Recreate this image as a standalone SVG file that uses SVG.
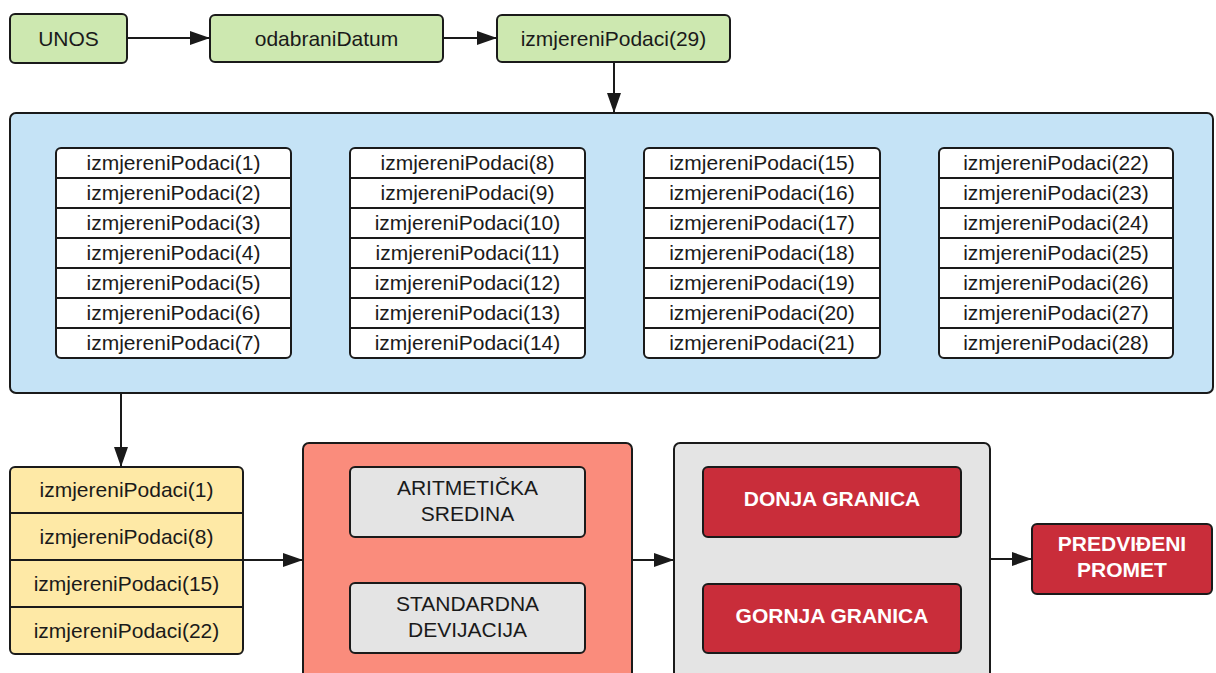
<svg xmlns="http://www.w3.org/2000/svg" width="1216" height="673" viewBox="0 0 1216 673">
<style>
text{font-family:"Liberation Sans",Arial,sans-serif;font-size:21px;fill:#1a1a1a;text-anchor:middle}
.b{stroke:#1a1a1a;stroke-width:2}
.g{fill:#cde8b0}
.bl{fill:#c5e3f6}
.w{fill:#ffffff}
.y{fill:#fee9a6}
.s{fill:#fa8c7c}
.gr{fill:#e4e4e4}
.r{fill:#c92d3a}
.wt{fill:#ffffff;font-weight:bold}
.ln{stroke:#1a1a1a;stroke-width:2;fill:none}
</style>
<defs>
<marker id="ah" viewBox="0 0 20 14" refX="20" refY="7" markerWidth="20" markerHeight="14" markerUnits="userSpaceOnUse" orient="auto"><path d="M0,0 L20,7 L0,14 z" fill="#1a1a1a"/></marker>
</defs>
<g id="unos"><rect class="b g" x="10" y="14" width="117" height="49" rx="5"/><text x="68.5" y="46">UNOS</text></g>
<g id="odabraniDatum"><rect class="b g" x="210" y="15" width="233" height="47" rx="5"/><text x="326.5" y="46">odabraniDatum</text></g>
<g id="izmjereni29"><rect class="b g" x="497" y="15" width="233" height="47" rx="5"/><text x="613.5" y="46">izmjereniPodaci(29)</text></g>
<g id="container"><rect class="b bl" x="10" y="113" width="1203" height="280" rx="6"/>
<g id="col1"><rect class="b w" x="56" y="148" width="235" height="210" rx="5"/>
<path class="ln" d="M56,178H291M56,208H291M56,238H291M56,268H291M56,298H291M56,328H291"/>
<text x="173.5" y="170">izmjereniPodaci(1)</text><text x="173.5" y="200">izmjereniPodaci(2)</text><text x="173.5" y="230">izmjereniPodaci(3)</text><text x="173.5" y="260">izmjereniPodaci(4)</text><text x="173.5" y="290">izmjereniPodaci(5)</text><text x="173.5" y="320">izmjereniPodaci(6)</text><text x="173.5" y="350">izmjereniPodaci(7)</text></g>
<g id="col2"><rect class="b w" x="350" y="148" width="235" height="210" rx="5"/>
<path class="ln" d="M350,178H585M350,208H585M350,238H585M350,268H585M350,298H585M350,328H585"/>
<text x="467.5" y="170">izmjereniPodaci(8)</text><text x="467.5" y="200">izmjereniPodaci(9)</text><text x="467.5" y="230">izmjereniPodaci(10)</text><text x="467.5" y="260">izmjereniPodaci(11)</text><text x="467.5" y="290">izmjereniPodaci(12)</text><text x="467.5" y="320">izmjereniPodaci(13)</text><text x="467.5" y="350">izmjereniPodaci(14)</text></g>
<g id="col3"><rect class="b w" x="644" y="148" width="236" height="210" rx="5"/>
<path class="ln" d="M644,178H880M644,208H880M644,238H880M644,268H880M644,298H880M644,328H880"/>
<text x="762" y="170">izmjereniPodaci(15)</text><text x="762" y="200">izmjereniPodaci(16)</text><text x="762" y="230">izmjereniPodaci(17)</text><text x="762" y="260">izmjereniPodaci(18)</text><text x="762" y="290">izmjereniPodaci(19)</text><text x="762" y="320">izmjereniPodaci(20)</text><text x="762" y="350">izmjereniPodaci(21)</text></g>
<g id="col4"><rect class="b w" x="939" y="148" width="234" height="210" rx="5"/>
<path class="ln" d="M939,178H1173M939,208H1173M939,238H1173M939,268H1173M939,298H1173M939,328H1173"/>
<text x="1056" y="170">izmjereniPodaci(22)</text><text x="1056" y="200">izmjereniPodaci(23)</text><text x="1056" y="230">izmjereniPodaci(24)</text><text x="1056" y="260">izmjereniPodaci(25)</text><text x="1056" y="290">izmjereniPodaci(26)</text><text x="1056" y="320">izmjereniPodaci(27)</text><text x="1056" y="350">izmjereniPodaci(28)</text></g>
</g>
<g id="selected"><rect class="b y" x="10" y="467" width="233" height="187" rx="5"/>
<path class="ln" d="M10,513H243M10,560H243M10,607H243"/>
<text x="126.5" y="497">izmjereniPodaci(1)</text><text x="126.5" y="544">izmjereniPodaci(8)</text><text x="126.5" y="591">izmjereniPodaci(15)</text><text x="126.5" y="638">izmjereniPodaci(22)</text></g>
<g id="stats"><rect class="b s" x="303" y="443" width="329" height="240" rx="6"/>
<g id="aritmeticka"><rect class="b gr" x="350" y="467" width="235" height="70" rx="5"/><text x="467.5" y="495">ARITMETIČKA</text><text x="467.5" y="521">SREDINA</text></g>
<g id="standardna"><rect class="b gr" x="350" y="583" width="235" height="70" rx="5"/><text x="467.5" y="611">STANDARDNA</text><text x="467.5" y="637">DEVIJACIJA</text></g>
</g>
<g id="granice"><rect class="b gr" x="674" y="443" width="316" height="240" rx="6"/>
<g id="donja"><rect class="b r" x="703" y="467" width="258" height="70" rx="5"/><text class="wt" x="832" y="506">DONJA GRANICA</text></g>
<g id="gornja"><rect class="b r" x="703" y="584" width="258" height="69" rx="5"/><text class="wt" x="832" y="623">GORNJA GRANICA</text></g>
</g>
<g id="predvideni"><rect class="b r" x="1032" y="524" width="180" height="70" rx="5"/><text class="wt" x="1122" y="551">PREDVIĐENI</text><text class="wt" x="1122" y="577">PROMET</text></g>
<g id="connectors">
<path class="ln" d="M127,38H210" marker-end="url(#ah)"/>
<path class="ln" d="M443,38H497" marker-end="url(#ah)"/>
<path class="ln" d="M614,62V113" marker-end="url(#ah)"/>
<path class="ln" d="M121,393V467" marker-end="url(#ah)"/>
<path class="ln" d="M243,560H303" marker-end="url(#ah)"/>
<path class="ln" d="M632,560H674" marker-end="url(#ah)"/>
<path class="ln" d="M990,559H1032" marker-end="url(#ah)"/>
</g>
</svg>
